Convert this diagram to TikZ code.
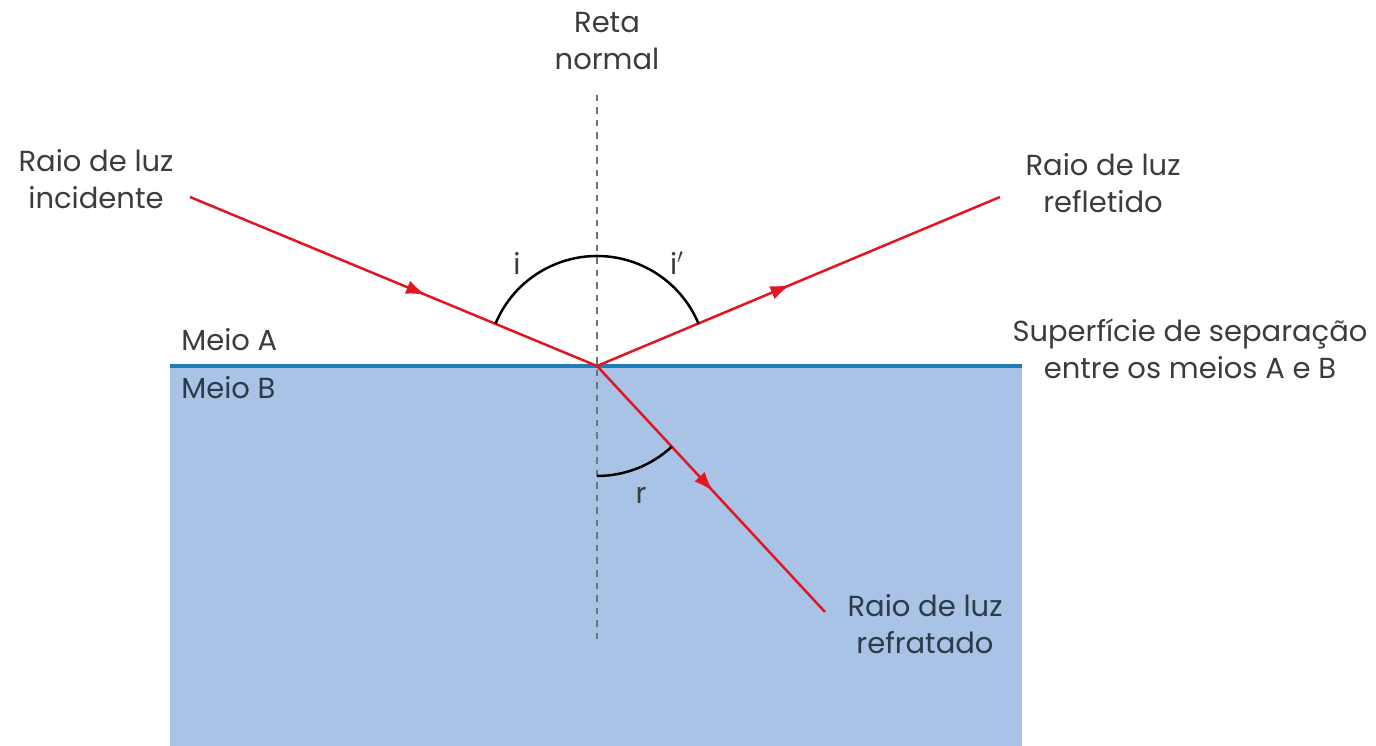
\documentclass[tikz,border=0pt]{standalone}
\usepackage{fontspec}
\setmainfont{Poppins}
\usepackage{tikz}
\usetikzlibrary{calc, positioning, arrows.meta, decorations.markings}
\definecolor{RayRed}{RGB}{226,22,32}
\definecolor{SurfBlue}{RGB}{30,125,184}
\definecolor{MediumBlue}{RGB}{168,195,230}
\definecolor{TextGrey}{RGB}{60,60,60}
\definecolor{TextDark}{RGB}{45,58,72}

\begin{document}
\begin{tikzpicture}[
  x=0.2mm, y=0.2mm,
  font=\fontsize{16.5}{21}\selectfont,
  raylabel/.style={text=TextGrey, align=center, inner sep=0pt},
  anglabel/.style={text=TextGrey, inner sep=0pt},
  ray/.style={draw=RayRed, line width=0.5mm},
  midarrow/.style={postaction={decorate}, decoration={markings, mark=at position #1 with {\arrow[RayRed]{Latex[length=4mm, width=2.8mm]}}}},
  anglearc/.style={draw=black, line width=0.5mm}
]
\useasboundingbox (0,0) rectangle (1376,746);
% meio B
\fill[MediumBlue] (170,0) rectangle (1022,380);
\coordinate (O) at (597,380);
\coordinate (surfL) at (170,380);
\coordinate (surfR) at (1022,380);
\coordinate (normTop) at (597,651);
\coordinate (normBot) at (597,106);
\coordinate (incStart) at (190,549);
\coordinate (reflEnd) at (1000,549);
\coordinate (refrEnd) at (825,134);
\draw[SurfBlue, line width=0.8mm] (surfL) -- (surfR);
\draw[gray!90!black, line width=0.35mm, dash pattern=on 1.3mm off 1.2mm] (normTop) -- (normBot);
% raios
\draw[ray, midarrow=0.58] (incStart) -- (O);
\draw[ray, midarrow=0.48] (O) -- (reflEnd);
\draw[ray, midarrow=0.51] (O) -- (refrEnd);
% angulos
\draw[anglearc] (O) ++(157.5:110) arc[start angle=157.5, end angle=22.5, radius=110];
\draw[anglearc] (O) ++(270:110) arc[start angle=270, end angle=312.8, radius=110];
\node[anglabel] (angI) at (517,483) {i};
\node[anglabel] (angIr) at (677,483) {i$'$};
\node[anglabel] (angR) at (641,251) {r};
% textos
\node[raylabel] (normal) at (607,705) {Reta\\normal};
\node[raylabel] (incident) at (96,567) {Raio de luz\\incidente};
\node[raylabel] (reflected) at (1103,563) {Raio de luz\\refletido};
\node[raylabel] (surface) at (1190,397) {Superfície de separação\\entre os meios A e B};
\node[raylabel, text=TextDark] (refracted) at (925,122) {Raio de luz\\refratado};
\node[raylabel, anchor=west] (meioA) at (181,406) {Meio A};
\node[raylabel, anchor=west, text=TextDark] (meioB) at (181,358) {Meio B};
\end{tikzpicture}
\end{document}
